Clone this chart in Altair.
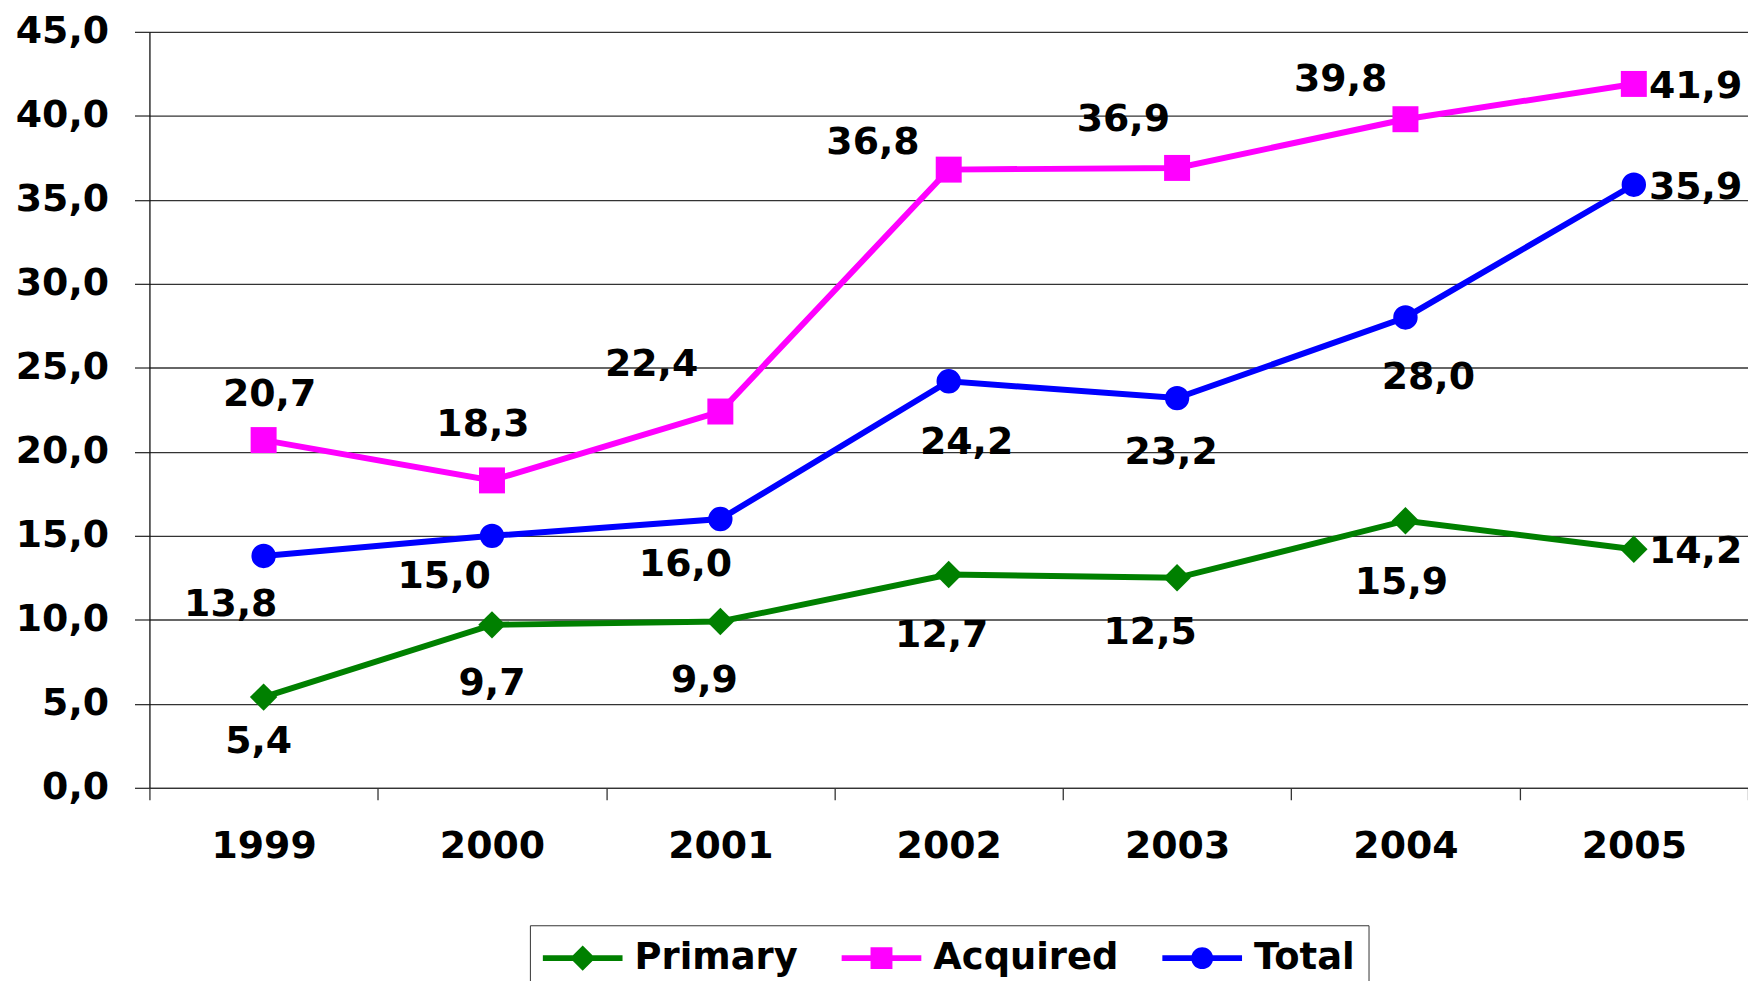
import altair as alt
import pandas as pd

# ---- data ----
YEARS = ["1999", "2000", "2001", "2002", "2003", "2004", "2005"]
SERIES = ["Primary", "Acquired", "Total"]
PRIMARY = [5.4, 9.7, 9.9, 12.7, 12.5, 15.9, 14.2]
ACQUIRED = [20.7, 18.3, 22.4, 36.8, 36.9, 39.8, 41.9]
TOTAL = [13.8, 15.0, 16.0, 24.2, 23.2, 28.0, 35.9]

# ---- styling ----
COLORS = ["#008000", "#FF00FF", "#0000FF"]
SHAPES = ["diamond", "square", "circle"]
SIZES = [760, 600, 560]
FONT = "DejaVu Sans"
# label placement (pixel offsets from each point), per series
LABEL_DX = {
    "Primary": [-5, 0, -16, -7, -27, -4, 62],
    "Acquired": [6, -9, -69, -76, -54, -65, 62],
    "Total": [-33, -48, -35, 18, -6, 23, 62],
}
LABEL_DY = {
    "Primary": [45, 59, 60, 62, 55, 63, 3],
    "Acquired": [-45, -56, -47, -27, -48, -39, 3],
    "Total": [49, 41, 46, 62, 55, 61, 3],
}
LEGEND_PATHS = [
    "M-2,-0.14L-0.49,-0.14L0,-0.63L0.49,-0.14L2,-0.14L2,0.14L0.49,0.14L0,0.63L-0.49,0.14L-2,0.14Z",
    "M-2,-0.14L-0.55,-0.14L-0.55,-0.55L0.55,-0.55L0.55,-0.14L2,-0.14L2,0.14L0.55,0.14L0.55,0.55L-0.55,0.55L-0.55,0.14L-2,0.14Z",
    "M-2,-0.14L-0.532,-0.14A0.55,0.55,0,0,1,0.532,-0.14L2,-0.14L2,0.14L0.532,0.14A0.55,0.55,0,0,1,-0.532,0.14L-2,0.14Z",
]

values = {"Primary": PRIMARY, "Acquired": ACQUIRED, "Total": TOTAL}
rows = []
for s in SERIES:
    for i, y in enumerate(YEARS):
        rows.append({"year": y, "series": s, "value": values[s][i],
                     "dx": LABEL_DX[s][i], "dy": LABEL_DY[s][i]})
df = pd.DataFrame(rows)

x_enc = alt.X("year:N", sort=YEARS, bandPosition=0.5,
              scale=alt.Scale(type="band", paddingInner=0, paddingOuter=0),
              axis=alt.Axis(title=None, labelAngle=0, tickBand="extent", tickSize=12,
                            tickColor="#333", tickWidth=1.3, domain=True, domainColor="#333",
                            domainWidth=1.3, grid=False, labelFont=FONT, labelFontWeight="bold",
                            labelFontSize=38, labelColor="#000", labelPadding=28))
y_enc = alt.Y("value:Q",
              scale=alt.Scale(domain=[0, 45], nice=False, zero=True),
              axis=alt.Axis(title=None, values=list(range(0, 50, 5)),
                            labelExpr="replace(format(datum.value, '.1f'), '.', ',')",
                            grid=True, gridColor="#333", gridWidth=1.3,
                            tickSize=15, tickColor="#333", tickWidth=1.3,
                            domain=True, domainColor="#111", domainWidth=1.3,
                            labelFont=FONT, labelFontWeight="bold", labelFontSize=38,
                            labelColor="#000", labelPadding=26))
color_enc = alt.Color("series:N", scale=alt.Scale(domain=SERIES, range=COLORS), legend=None)

base = alt.Chart(df)

lines = base.mark_line(strokeWidth=6).encode(x=x_enc, y=y_enc, color=color_enc, detail="series:N")

points = base.mark_point(filled=True, opacity=1).encode(
    x=x_enc, y=y_enc, color=color_enc,
    shape=alt.Shape("series:N", scale=alt.Scale(domain=SERIES, range=SHAPES), legend=None),
    size=alt.Size("series:N", scale=alt.Scale(domain=SERIES, range=SIZES), legend=None),
)

labels = base.transform_calculate(
    label="replace(format(datum.value, '.1f'), '.', ',')"
).mark_text(font=FONT, fontWeight="bold", fontSize=38, color="#000",
            align="center", baseline="middle",
            dx={"expr": "datum.dx"}, dy={"expr": "datum.dy"}).encode(
    x=x_enc, y=y_enc, text="label:N")

legend_layer = base.transform_filter("false").mark_point(filled=True).encode(
    x=x_enc, y=y_enc,
    fill=alt.Fill("series:N", scale=alt.Scale(domain=SERIES, range=COLORS),
                  legend=alt.Legend(title=None)),
    shape=alt.Shape("series:N", scale=alt.Scale(domain=SERIES, range=LEGEND_PATHS),
                    legend=alt.Legend(title=None)),
)

chart = alt.layer(lines, points, labels, legend_layer).resolve_scale(
    shape="independent", size="independent", fill="independent"
).properties(
    width=1605, height=759,
    padding={"left": 142, "top": 22, "right": 0, "bottom": 192},
    autosize=alt.AutoSizeParams(type="none"),
).configure_view(stroke=None).configure_legend(
    orient="none", legendX=382, legendY=897, direction="horizontal", columns=3,
    symbolSize=1600, symbolOffset=20, labelOffset=32, symbolStrokeWidth=0,
    symbolOpacity=1, columnPadding=44, padding=13, strokeColor="#333",
    fillColor="#FFFFFF", labelFont=FONT, labelFontWeight="bold", labelFontSize=37,
    labelColor="#000", labelLimit=400,
)

chart.save("out.html", embed_options={"renderer": "svg", "actions": False})
